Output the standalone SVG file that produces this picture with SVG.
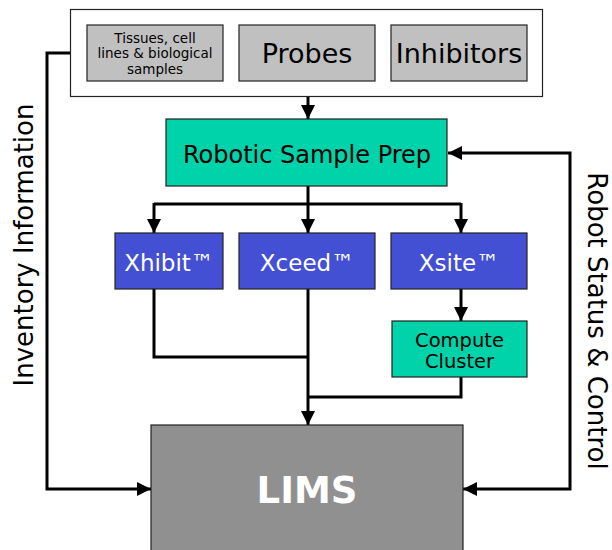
<svg xmlns="http://www.w3.org/2000/svg" width="612" height="550" viewBox="0 0 612 550">
<style>
text{font-family:"DejaVu Sans","Verdana",sans-serif;text-anchor:middle}
.box{stroke:#222;stroke-width:1.2}
.gray{fill:#c0c0c0}
.teal{fill:#00d2aa}
.blue{fill:#4450d4}
.lims{fill:#909090}
.con{fill:none;stroke:#000;stroke-width:3}
.arr{marker-end:url(#ah)}
.arrs{marker-start:url(#ah)}
</style>
<defs>
<marker id="ah" markerUnits="userSpaceOnUse" markerWidth="14" markerHeight="14" viewBox="0 0 14 14" refX="14" refY="7" orient="auto-start-reverse">
<path d="M0,0 L14,7 L0,14 Z" fill="#000"/>
</marker>
</defs>
<rect width="612" height="550" fill="#fff"/>
<g id="connectors">
<path class="con arr" d="M308,97 V119"/>
<path class="con" d="M308,186 V204 M154,204 H461"/>
<path class="con arr" d="M154,203 V233"/>
<path class="con arr" d="M308,203 V233"/>
<path class="con arr" d="M461,203 V233"/>
<path class="con arr" d="M461,289 V321"/>
<path class="con" d="M154,289 V357 H308"/>
<path class="con" d="M461,377 V397 H308"/>
<path class="con arr" d="M308,289 V425"/>
<path class="con arr" d="M71,53 H47 V489 H151"/>
<path class="con arr arrs" d="M463,489 H570 V153 H448"/>
</g>
<g id="inputs">
<rect class="box" x="70.5" y="9.5" width="472" height="87" fill="#fff" stroke="#333"/>
</g>
<g id="tissues">
<rect class="box gray" x="87" y="25" width="136" height="56"/>
<text x="155" y="42.5" font-size="13.5">Tissues, cell</text>
<text x="155" y="58" font-size="13.5">lines &amp; biological</text>
<text x="155" y="73.5" font-size="13.5">samples</text>
</g>
<g id="probes">
<rect class="box gray" x="239" y="25" width="136" height="56"/>
<text x="307" y="63" font-size="27">Probes</text>
</g>
<g id="inhibitors">
<rect class="box gray" x="391" y="25" width="136" height="56"/>
<text x="459" y="63" font-size="27">Inhibitors</text>
</g>
<g id="robotic">
<rect class="box teal" x="166" y="119" width="281" height="67"/>
<text x="307" y="163" font-size="24">Robotic Sample Prep</text>
</g>
<g id="xhibit">
<rect class="box blue" x="115" y="233" width="108" height="56"/>
<text x="169" y="271" font-size="23" fill="#fff">Xhibit™</text>
</g>
<g id="xceed">
<rect class="box blue" x="239" y="233" width="136" height="56"/>
<text x="307" y="271" font-size="23" fill="#fff">Xceed™</text>
</g>
<g id="xsite">
<rect class="box blue" x="391" y="233" width="136" height="56"/>
<text x="459" y="271" font-size="23" fill="#fff">Xsite™</text>
</g>
<g id="compute">
<rect class="box teal" x="392" y="321" width="135" height="56"/>
<text x="459.5" y="347" font-size="19.5">Compute</text>
<text x="459.5" y="368" font-size="19.5">Cluster</text>
</g>
<g id="lims">
<rect class="box lims" x="151" y="425" width="312" height="130"/>
<text x="307" y="503" font-size="37" font-weight="bold" fill="#fff">LIMS</text>
</g>
<g id="labels">
<text transform="translate(33,245) rotate(-90)" font-size="26">Inventory Information</text>
<text transform="translate(588,321) rotate(90)" font-size="26">Robot Status &amp; Control</text>
</g>
</svg>
